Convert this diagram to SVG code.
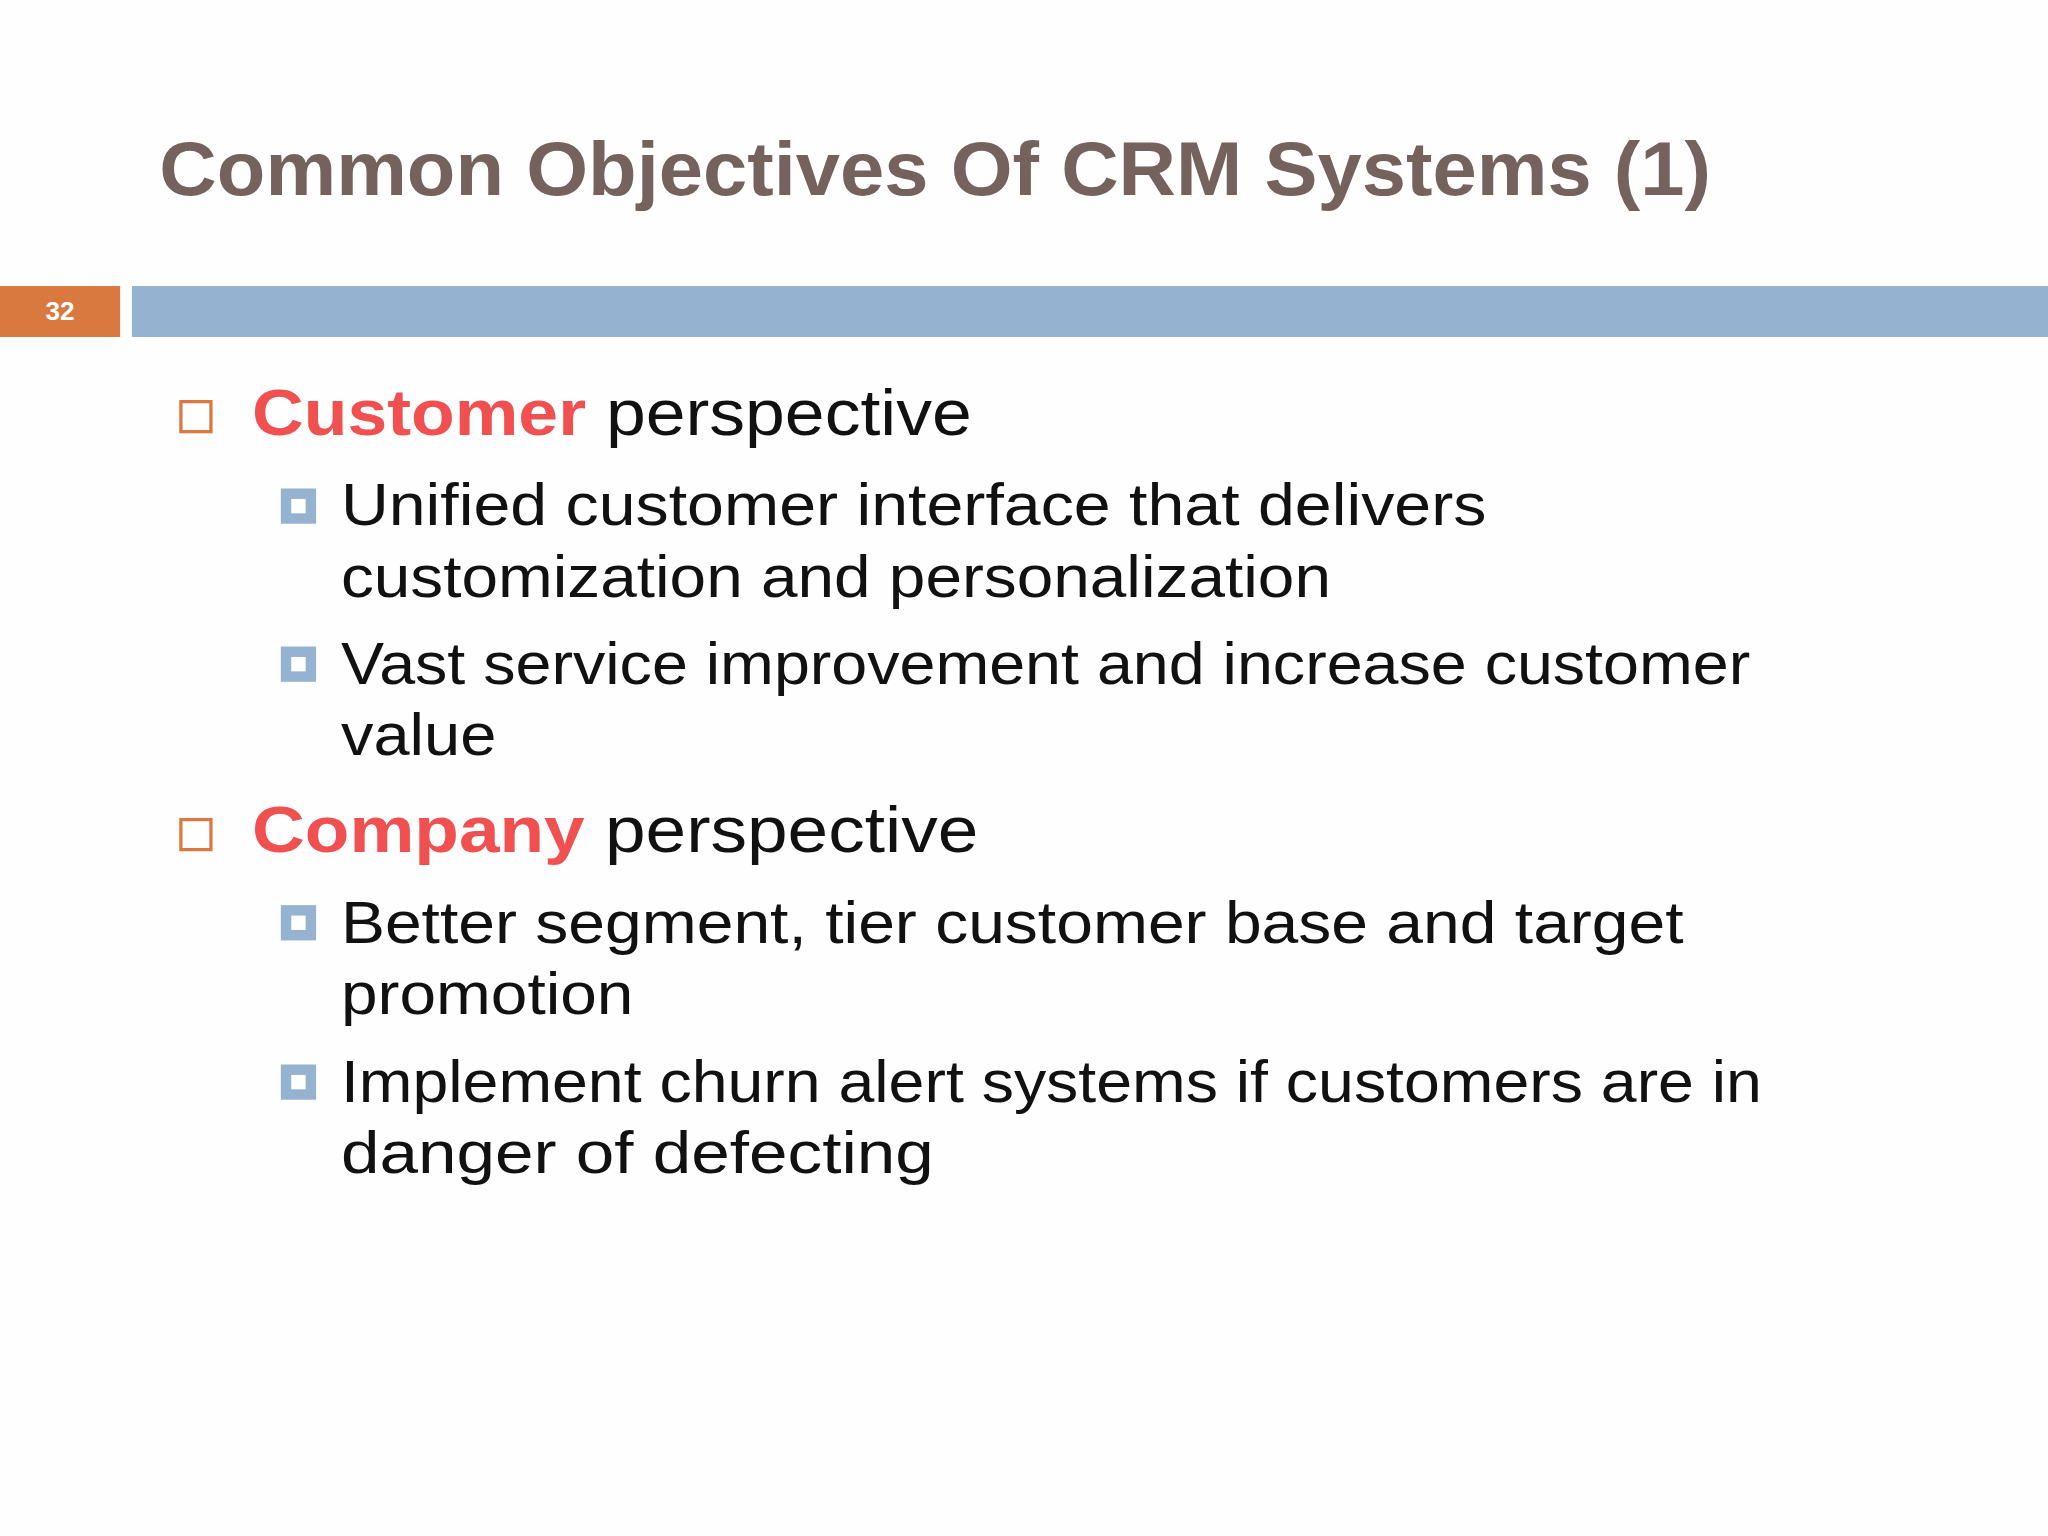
<svg xmlns="http://www.w3.org/2000/svg" width="2048" height="1536" viewBox="0 0 2048 1536">
<style>
.t{font-family:"Liberation Sans","DejaVu Sans",sans-serif}
.b{font-size:46px;fill:#111}
.h{font-size:50px;fill:#111}
.r{fill:#f05050;font-weight:bold}
</style>
<rect width="2048" height="1536" fill="#fefefe"/>
<g transform="scale(1.306122)">
<g id="title"><text class="t" x="122" y="149" font-size="58" font-weight="bold" fill="#75625c" textLength="1188" lengthAdjust="spacingAndGlyphs">Common Objectives Of CRM Systems (1)</text></g>
<g id="header-bar">
<rect x="0" y="219" width="92" height="39" fill="#d9783f"/>
<text class="t" x="46" y="245" font-size="20" font-weight="bold" fill="#fff" text-anchor="middle">32</text>
<rect x="101" y="219" width="1467" height="39" fill="#95b3d0"/>
</g>
<g id="customer">
<rect x="138.5" y="307.5" width="23" height="23" fill="none" stroke="#d9783f" stroke-width="2.5"/>
<text class="t h" x="193" y="333" textLength="551" lengthAdjust="spacingAndGlyphs"><tspan class="r">Customer</tspan> perspective</text>
</g>
<g id="c1">
<rect x="215" y="374" width="27" height="27" fill="#95b3d0"/><rect x="223" y="382" width="11" height="11" fill="#fff"/>
<text class="t b" x="261" y="402" textLength="877" lengthAdjust="spacingAndGlyphs">Unified customer interface that delivers</text>
<text class="t b" x="261" y="457" textLength="758" lengthAdjust="spacingAndGlyphs">customization and personalization</text>
</g>
<g id="c2">
<rect x="215" y="495" width="27" height="27" fill="#95b3d0"/><rect x="223" y="503" width="11" height="11" fill="#fff"/>
<text class="t b" x="261" y="524" textLength="1079" lengthAdjust="spacingAndGlyphs">Vast service improvement and increase customer</text>
<text class="t b" x="261" y="578" textLength="119" lengthAdjust="spacingAndGlyphs">value</text>
</g>
<g id="company">
<rect x="138.5" y="627.5" width="23" height="23" fill="none" stroke="#d9783f" stroke-width="2.5"/>
<text class="t h" x="193" y="652" textLength="556" lengthAdjust="spacingAndGlyphs"><tspan class="r">Company</tspan> perspective</text>
</g>
<g id="p1">
<rect x="215" y="693" width="27" height="27" fill="#95b3d0"/><rect x="223" y="701" width="11" height="11" fill="#fff"/>
<text class="t b" x="261" y="722" textLength="1028" lengthAdjust="spacingAndGlyphs">Better segment, tier customer base and target</text>
<text class="t b" x="261" y="776" textLength="224" lengthAdjust="spacingAndGlyphs">promotion</text>
</g>
<g id="p2">
<rect x="215" y="815" width="27" height="27" fill="#95b3d0"/><rect x="223" y="823" width="11" height="11" fill="#fff"/>
<text class="t b" x="261" y="844" textLength="1088" lengthAdjust="spacingAndGlyphs">Implement churn alert systems if customers are in</text>
<text class="t b" x="261" y="898" textLength="454" lengthAdjust="spacingAndGlyphs">danger of defecting</text>
</g>
</g>
</svg>
